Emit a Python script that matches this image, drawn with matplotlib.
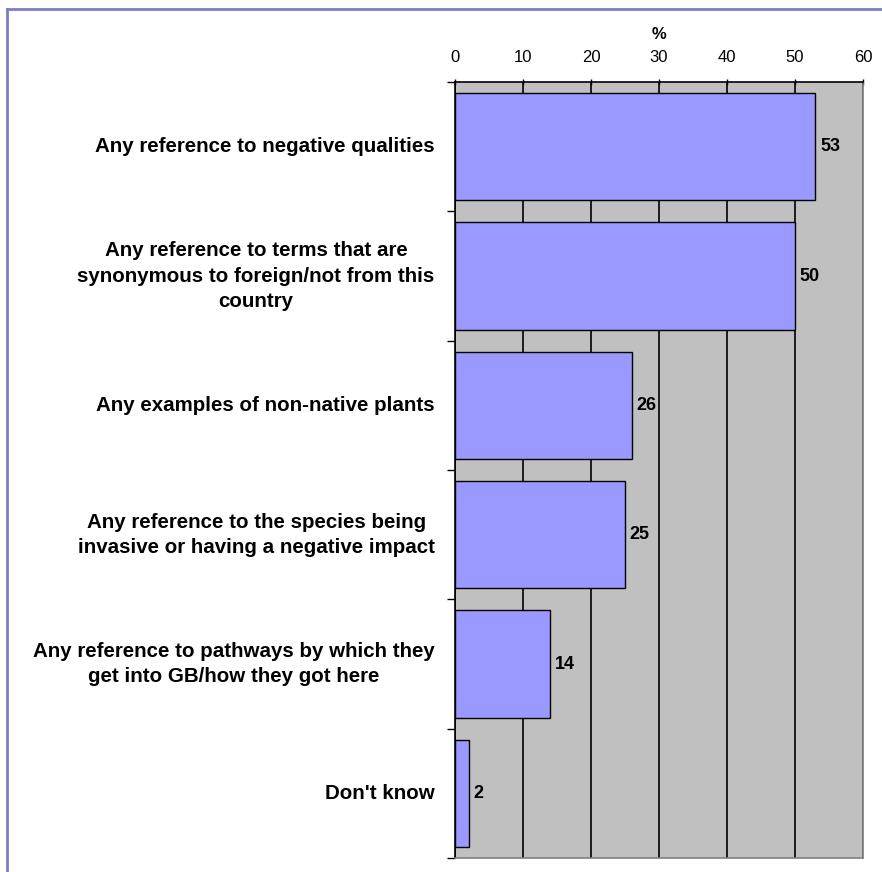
import numpy as np
import matplotlib
matplotlib.use('Agg')
import matplotlib.pyplot as plt
from matplotlib.lines import Line2D

plt.rcParams['font.family'] = ['Liberation Sans', 'DejaVu Sans']

categories = ['Any reference to negative qualities',
              'Any reference to terms that are\nsynonymous to foreign/not from this\ncountry',
              'Any examples of non-native plants',
              'Any reference to the species being\ninvasive or having a negative impact',
              'Any reference to pathways by which they\nget into GB/how they got here',
              "Don't know"]
values = [53, 50, 26, 25, 14, 2]
xticks = [0, 10, 20, 30, 40, 50, 60]

fig = plt.figure(figsize=(8.82, 8.72), dpi=100)
ax = fig.add_axes([455/882, 1-858/872, (863-455)/882, (858-82)/872])
ax.set_facecolor('#C0C0C0')

y = np.arange(len(categories))
ax.barh(y, values, height=0.83, color='#9999FF', edgecolor='black', linewidth=1, zorder=3)

for yi, v in zip(y, values):
    ax.text(v + 0.7, yi, str(v), va='center', ha='left', fontsize=13, fontweight='bold', zorder=4)

ax.set_xlim(0, 60)
ax.set_ylim(len(categories) - 0.5, -0.5)
ax.xaxis.tick_top()
ax.xaxis.set_label_position('top')
ax.set_xticks(xticks)
ax.set_xticklabels([str(t) for t in xticks], fontsize=12)
ax.tick_params(axis='x', direction='inout', length=5, width=1, pad=10)
ax.set_xlabel('%', fontsize=12, fontweight='bold', labelpad=8)
ax.grid(axis='x', color='black', linewidth=1.2, zorder=1)
ax.set_axisbelow(True)

# category labels between boundary ticks
ax.set_yticks(np.arange(len(categories) + 1) - 0.5)
ax.set_yticklabels([])
ax.tick_params(axis='y', direction='out', length=6, width=1)
for yi, lab in zip(y, categories):
    ax.text(-3.0, yi, lab, ha='right', va='center', multialignment='center',
            fontsize=14.8, fontweight='bold', linespacing=1.42)

ax.spines['left'].set_color('black')
ax.spines['top'].set_color('black')
ax.spines['right'].set_color('#808080')
ax.spines['bottom'].set_color('#808080')
for s in ax.spines.values():
    s.set_linewidth(1.2)

# outer chart border (left and top only visible)
fig.add_artist(Line2D([7/882, 7/882], [0, 1-9/872], color='#7B7FC6', linewidth=2))
fig.add_artist(Line2D([7/882, 1], [1-9/872, 1-9/872], color='#7B7FC6', linewidth=2))

fig.savefig('out.png', dpi=100)
